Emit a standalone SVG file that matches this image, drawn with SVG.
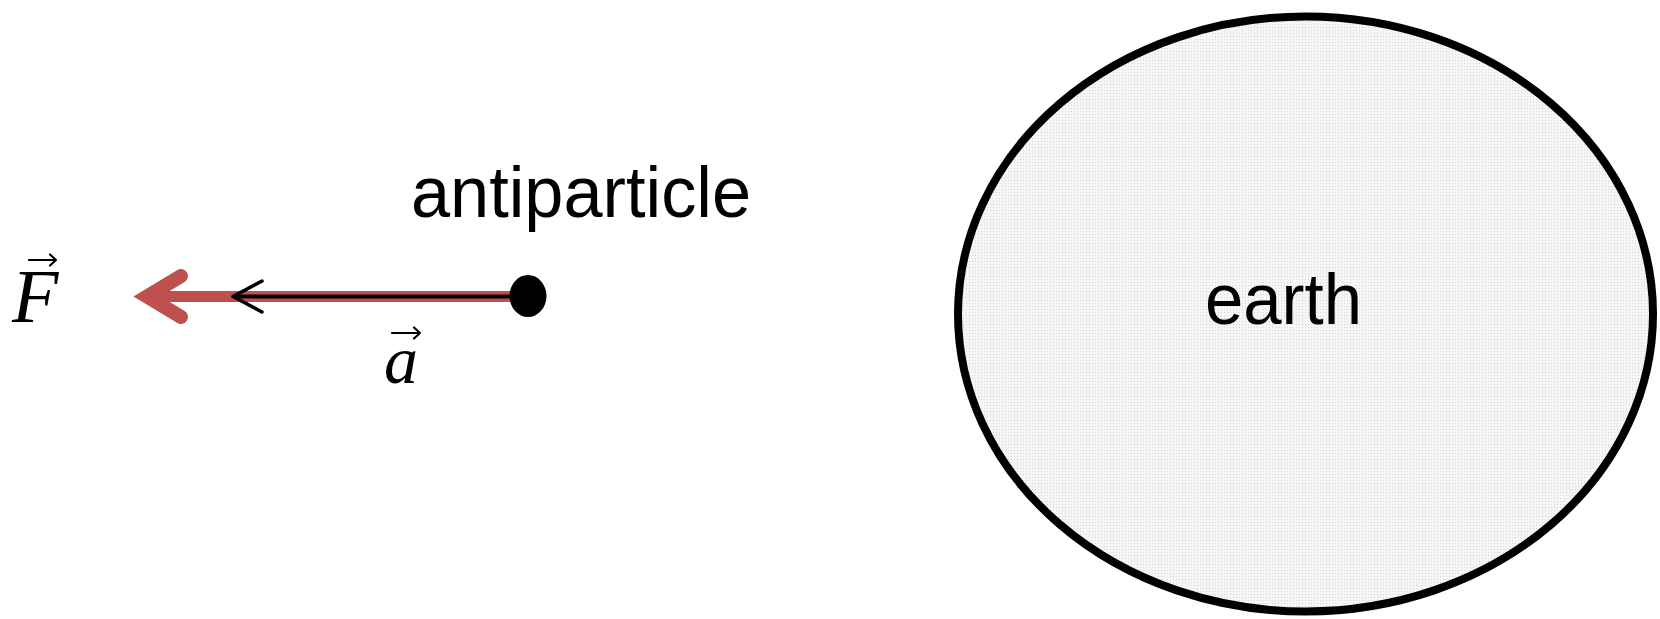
<svg xmlns="http://www.w3.org/2000/svg" width="1660" height="619" viewBox="0 0 1660 619">
  <style>
    .label { font-family: "Liberation Sans", Arial, sans-serif; font-size: 72px; fill: #000; }
    .math { font-family: "Liberation Serif", "Times New Roman", serif; font-style: italic; fill: #000; }
    .vec { fill: none; stroke: #000; stroke-width: 2.2; stroke-linecap: round; stroke-linejoin: round; }
  </style>
  <defs>
    <pattern id="dots" width="3" height="3" patternUnits="userSpaceOnUse">
      <rect width="3" height="3" fill="#f6f6f6"/>
      <rect width="1" height="1" fill="#d6d6d6"/>
    </pattern>
  </defs>
  <rect width="1660" height="619" fill="#ffffff"/>

  <g id="earth">
    <ellipse cx="1305.5" cy="314" rx="347.5" ry="297.5" fill="url(#dots)" stroke="#000" stroke-width="8"/>
    <text class="label" x="1205" y="324" textLength="157" lengthAdjust="spacingAndGlyphs" font-size="74">earth</text>
  </g>

  <g id="connectors">
    <g id="force-arrow">
      <line x1="150" y1="296.5" x2="515" y2="296.5" stroke="#c0504d" stroke-width="11"/>
      <path d="M181 276 L147 296.5 L181 317" fill="none" stroke="#c0504d" stroke-width="14" stroke-linecap="round" stroke-linejoin="miter" stroke-miterlimit="10"/>
    </g>
    <g id="accel-arrow">
      <line x1="234" y1="296.5" x2="515" y2="296.5" stroke="#000" stroke-width="4"/>
      <path d="M262 281 L233 296.5 L262 312" fill="none" stroke="#000" stroke-width="3.5" stroke-linecap="round" stroke-linejoin="round"/>
    </g>
  </g>

  <g id="antiparticle">
    <ellipse cx="528" cy="296" rx="18.5" ry="21" fill="#000"/>
    <text class="label" x="411" y="217" textLength="340" lengthAdjust="spacingAndGlyphs">antiparticle</text>
  </g>

  <g id="label-F">
    <text class="math" x="12" y="322" font-size="76">F</text>
    <path class="vec" d="M29 260 H56 M50 254.5 L56 260 L50 265.5"/>
  </g>

  <g id="label-a">
    <text class="math" x="384" y="383" font-size="68">a</text>
    <path class="vec" d="M392 333 H420 M414 327.5 L420 333 L414 338.5"/>
  </g>
</svg>
